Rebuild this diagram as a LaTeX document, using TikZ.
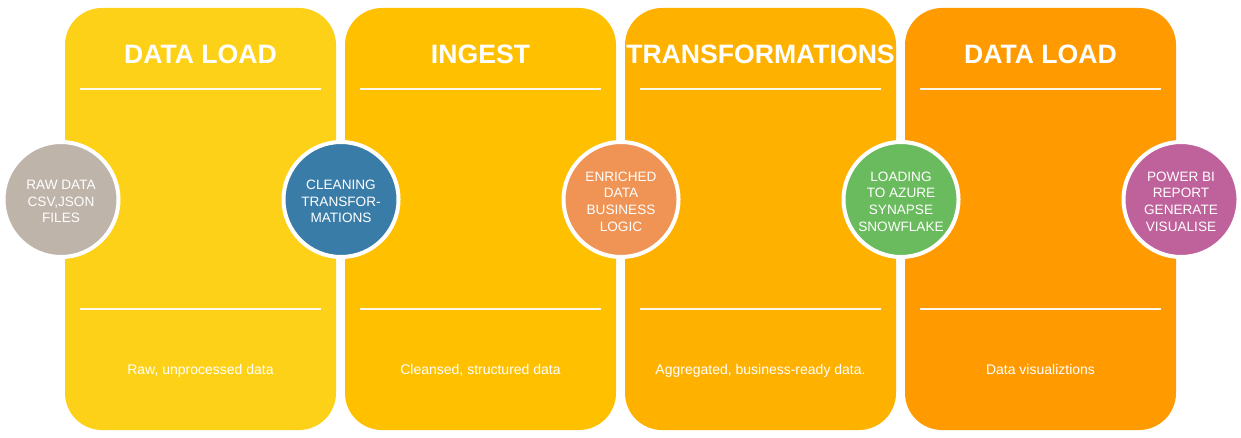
\documentclass[tikz,border=0pt]{standalone}
\usepackage{fontspec}
\setmainfont{Liberation Sans}
\begin{document}
\definecolor{panelA}{HTML}{FDD118}
\definecolor{panelB}{HTML}{FFC000}
\definecolor{panelC}{HTML}{FFB100}
\definecolor{panelD}{HTML}{FF9B00}
\definecolor{dotGrey}{HTML}{BFB4AA}
\definecolor{dotBlue}{HTML}{3A7CA8}
\definecolor{dotOrange}{HTML}{EF9455}
\definecolor{dotGreen}{HTML}{6ABB5E}
\definecolor{dotPurple}{HTML}{BF629B}
\begin{tikzpicture}[x=1pt,y=-1pt,
  panel/.style={rounded corners=37pt},
  rule/.style={draw=white,draw opacity=0.9,line width=2pt},
  title/.style={text=white,anchor=base,font=\fontsize{26.6}{30}\selectfont\bfseries,inner sep=0pt},
  caption/.style={text=white,anchor=base,font=\fontsize{14}{16}\selectfont,inner sep=0pt},
  stage/.style={circle,minimum size=115pt,inner sep=0pt,draw=white,line width=4pt},
  stagetext/.style={text=white,align=center,inner sep=0pt,font=\fontsize{13.6}{16.7}\selectfont}]
\useasboundingbox (0,0) rectangle (1241,438);

% four stage panels with header and footer rules
\foreach \i/\col/\ttl/\cap in {0/panelA/DATA LOAD/{Raw, unprocessed data},
                               1/panelB/INGEST/{Cleansed, structured data},
                               2/panelC/TRANSFORMATIONS/{Aggregated, business-ready data.},
                               3/panelD/DATA LOAD/{Data visualiztions}}{
  \pgfmathsetmacro{\xl}{65+280*\i}
  \pgfmathsetmacro{\xr}{\xl+271}
  \pgfmathsetmacro{\xc}{\xl+135.5}
  \fill[panel,\col] (\xl,8) rectangle (\xr,430);
  \draw[rule] (\xl+15,89) -- (\xr-15,89);
  \draw[rule] (\xl+15,309) -- (\xr-15,309);
  \node[title] (t\i) at (\xc,63.3) {\ttl};
  \node[caption] (c\i) at (\xc,374) {\cap};
}

% stage circles between the panels
\foreach \i/\col/\txt in {0/dotGrey/{RAW DATA\\CSV,JSON\\FILES},
                          1/dotBlue/{CLEANING\\TRANSFOR-\\MATIONS},
                          2/dotOrange/{ENRICHED\\DATA\\BUSINESS\\LOGIC},
                          3/dotGreen/{LOADING\\TO AZURE\\SYNAPSE\\SNOWFLAKE},
                          4/dotPurple/{POWER BI\\REPORT\\GENERATE\\VISUALISE}}{
  \pgfmathsetmacro{\cx}{61+280*\i}
  \node[stage,fill=\col] (s\i) at (\cx,199.5) {};
  \node[stagetext] (l\i) at (\cx,201.5) {\txt};
}
\end{tikzpicture}
\end{document}
